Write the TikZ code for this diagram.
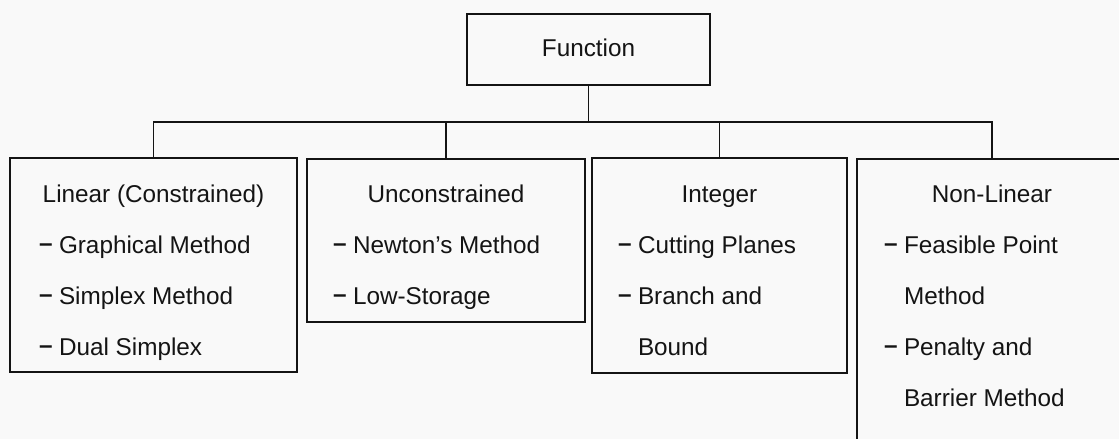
\documentclass[tikz,border=0pt]{standalone}
\usepackage{fontspec}
\setmainfont{Liberation Sans}
\definecolor{ink}{HTML}{141414}
\definecolor{paper}{HTML}{F9F9F9}
\tikzset{
  box/.style={draw=ink, line width=1.8pt, rectangle, inner sep=0pt},
  txt/.style={inner sep=0pt, outer sep=0pt, text=ink, font=\fontsize{24.3}{29}\selectfont},
  ttl/.style={txt, anchor=base},
  itm/.style={txt, anchor=base west},
  conn/.style={draw=ink, line width=1.8pt},
}
\newcommand{\dsh}{\makebox[20pt][l]{\raisebox{1.5pt}{\bfseries –}}}
\begin{document}
\begin{tikzpicture}[x=1pt, y=-1pt]
\path[use as bounding box, fill=paper] (0,0) rectangle (1119,439);
\clip (0,0) rectangle (1119,439);
% boxes
\node[box, minimum width=243pt, minimum height=71pt] (fn) at (588.5,49.5) {};
\node[box, minimum width=287pt, minimum height=214pt] (lin) at (153.5,265) {};
\node[box, minimum width=278pt, minimum height=163pt] (unc) at (446,240.5) {};
\node[box, minimum width=255pt, minimum height=215pt] (int) at (719.5,265.5) {};
\node[box, minimum width=270pt, minimum height=300pt] (nl) at (992,309) {};
% connectors
\coordinate (bus) at (0,122);
\draw[conn] (fn.south) -- (fn.south |- bus);
\draw[conn] (lin.north) -- (lin.north |- bus) -- (nl.north |- bus) -- (nl.north);
\draw[conn] (unc.north) -- (unc.north |- bus);
\draw[conn] (int.north) -- (int.north |- bus);
% texts
\node[ttl] (fnt) at (588.5,56) {Function};
\node[ttl] (lint) at (153.5,202) {Linear (Constrained)};
\node[ttl] (unct) at (446,202) {Unconstrained};
\node[ttl] (intt) at (719.5,202) {Integer};
\node[ttl] (nlt) at (992,202) {Non-Linear};
% linear items
\node[itm] (l1) at (39,253) {\dsh Graphical Method};
\node[itm] (l2) at (39,304) {\dsh Simplex Method};
\node[itm] (l3) at (39,355) {\dsh Dual Simplex};
% unconstrained items
\node[itm] (u1) at (333,253) {\dsh Newton's Method};
\node[itm] (u2) at (333,304) {\dsh Low-Storage};
% integer items
\node[itm] (i1) at (618,253) {\dsh Cutting Planes};
\node[itm] (i2) at (618,304) {\dsh Branch and};
\node[itm] (i3) at (638,355) {Bound};
% non-linear items
\node[itm] (n1) at (884,253) {\dsh Feasible Point};
\node[itm] (n2) at (904,304) {Method};
\node[itm] (n3) at (884,355) {\dsh Penalty and};
\node[itm] (n4) at (904,406) {Barrier Method};
\end{tikzpicture}
\end{document}
